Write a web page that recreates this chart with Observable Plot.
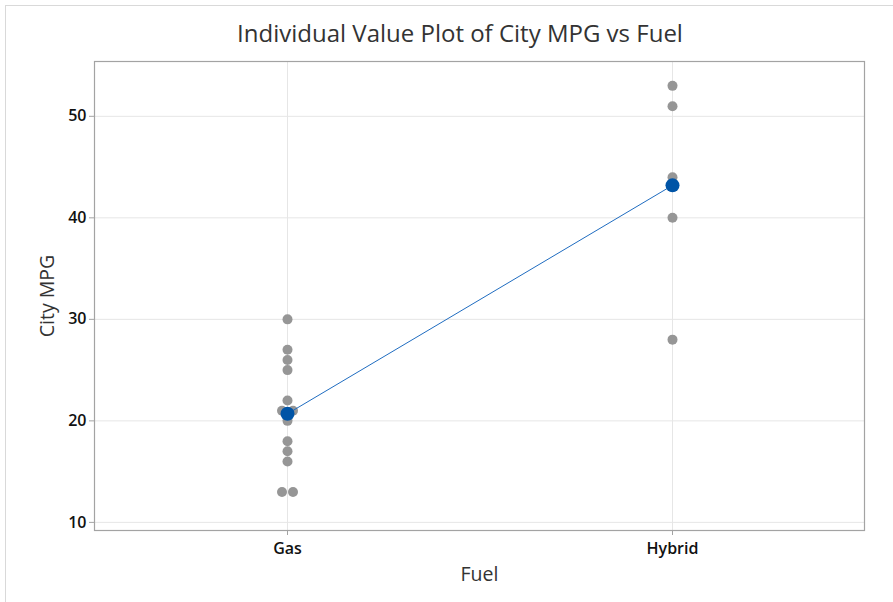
<!DOCTYPE html>
<html><head><meta charset="utf-8">
<script src="https://cdn.jsdelivr.net/npm/d3@7"></script>
<script src="https://cdn.jsdelivr.net/npm/@observablehq/plot@0.6"></script>
<style>
body{margin:0;background:#fff;}
#wrap{position:relative;width:893px;height:602px;overflow:hidden;font-family:"Open Sans","Noto Sans",sans-serif;}
#border{position:absolute;left:5px;top:5px;right:-2px;bottom:-2px;border-left:1px solid #d9d9d9;border-top:1px solid #d9d9d9;}
#title{position:absolute;top:16px;left:0;width:920px;text-align:center;font-size:24px;font-weight:500;color:#333;white-space:nowrap;line-height:34px;}
#chart{position:absolute;left:0;top:50px;}
</style></head><body>
<div id="wrap"><div id="border"></div><div id="title">Individual Value Plot of City MPG vs Fuel</div><div id="chart"></div></div>
<script>
const fuels = ["Gas", "Hybrid"];
const gasMPG = [30, 27, 26, 25, 22, 21, 21, 20, 18, 17, 16, 13, 13];
const hybridMPG = [53, 51, 44, 40, 28];
const meanMPG = [20.7, 43.2];
const yTicks = [10, 20, 30, 40, 50];

// build rows; duplicates within a group are placed side by side
const points = [];
[[fuels[0], gasMPG], [fuels[1], hybridMPG]].forEach(([fuel, vals]) => {
  const counts = d3.rollup(vals, v => v.length, v => v);
  const seen = new Map();
  vals.forEach(v => {
    const n = counts.get(v);
    const k = seen.get(v) || 0;
    seen.set(v, k + 1);
    const side = n > 1 ? (k === 0 ? -1 : 1) : 0;
    points.push({fuel, mpg: v, side});
  });
});
const means = fuels.map((f, i) => ({fuel: f, mpg: meanMPG[i]}));

const gray = "#969696", blue = "#0054a6";
const chart = Plot.plot({
  width: 893, height: 552,
  marginTop: 11, marginBottom: 72, marginLeft: 94, marginRight: 29,
  style: {fontFamily: '"Open Sans","Noto Sans",sans-serif', color: "#1a1a1a", background: "transparent"},
  x: {type: "point", domain: fuels, padding: 0.5},
  y: {domain: [9.2, 55.4]},
  marks: [
    Plot.gridY(yTicks, {stroke: "#e6e6e6", strokeOpacity: 1}),
    Plot.gridX(fuels, {stroke: "#e6e6e6", strokeOpacity: 1}),
    Plot.frame({stroke: "#a3a3a3", strokeWidth: 1.2}),
    Plot.axisY(yTicks, {tickSize: 5, tickPadding: 3, fontSize: 16, fontWeight: 600, stroke: "#a3a3a3", fill: "#111", label: null}),
    Plot.axisX(fuels, {tickSize: 5, tickPadding: 7, fontSize: 16, fontWeight: 600, stroke: "#a3a3a3", fill: "#111", label: null}),
    Plot.text(["Fuel"], {frameAnchor: "bottom", dy: 44, lineAnchor: "middle", textAnchor: "middle", fontSize: 19.5, fill: "#333"}),
    Plot.text(["City MPG"], {frameAnchor: "left", dx: -47, rotate: -90, lineAnchor: "middle", textAnchor: "middle", fontSize: 19.5, fill: "#333"}),
    Plot.dot(points.filter(d => d.side === 0), {x: "fuel", y: "mpg", r: 5, fill: gray}),
    Plot.dot(points.filter(d => d.side === -1), {x: "fuel", y: "mpg", r: 5, fill: gray, dx: -5.5}),
    Plot.dot(points.filter(d => d.side === 1), {x: "fuel", y: "mpg", r: 5, fill: gray, dx: 5.5}),
    Plot.line(means, {x: "fuel", y: "mpg", stroke: "#1f6cc0", strokeWidth: 1}),
    Plot.dot(means, {x: "fuel", y: "mpg", r: 7, fill: blue})
  ]
});
document.getElementById("chart").appendChild(chart);
</script>
</body></html>
